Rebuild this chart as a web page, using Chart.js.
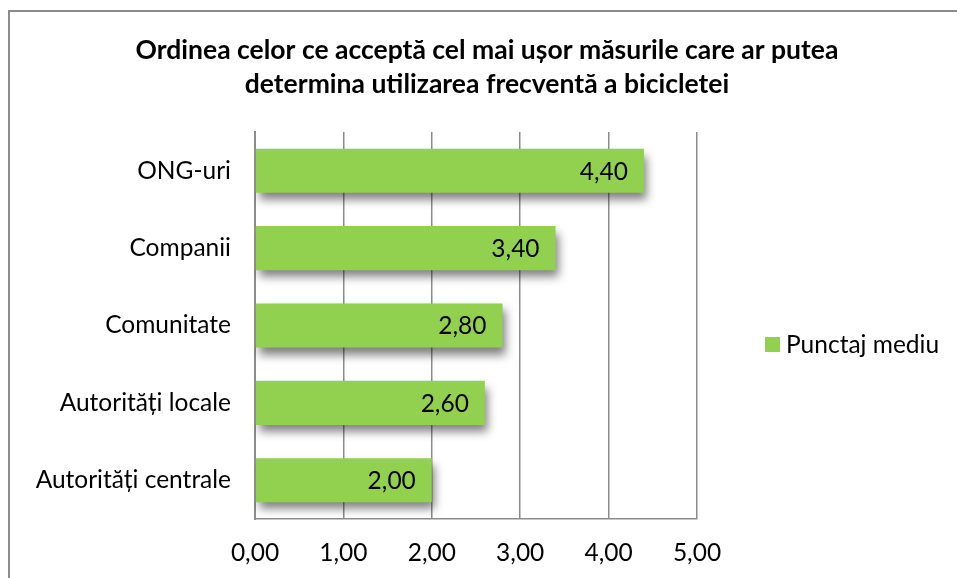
<!DOCTYPE html>
<html>
<head>
<meta charset="utf-8">
<script src="https://cdn.jsdelivr.net/npm/chart.js@4"></script>
<style>
  html, body { margin: 0; padding: 0; background: #fff; overflow: hidden; }
  #wrap { position: relative; width: 957px; height: 578px; }
  #frame { position: absolute; left: 8px; top: 10px; width: 1200px; height: 800px;
           border-top: 2px solid #8c8c8c; border-left: 2px solid #8c8c8c; box-sizing: border-box; }
  canvas { position: absolute; left: 0; top: 0; }
</style>
</head>
<body>
<div id="wrap">
  <div id="frame"></div>
  <canvas id="chart" width="957" height="578"></canvas>
</div>
<script>
const TITLE_LINES = ['Ordinea celor ce acceptă cel mai ușor măsurile care ar putea', 'determina utilizarea frecventă a bicicletei'];
const CATEGORIES = ['ONG-uri', 'Companii', 'Comunitate', 'Autorități locale', 'Autorități centrale'];
const SCORES = [4.40, 3.40, 2.80, 2.60, 2.00];
const SERIES_NAME = 'Punctaj mediu';
const X_TICKS = [0, 1, 2, 3, 4, 5];

const BAR_COLOR = '#92D050';
const GRID_COLOR = '#8c8c8c';
const FONT = 'Lato, "Open Sans", sans-serif';
const FONT_SIZE = 24.5;

const fmt = v => v.toFixed(2).replace('.', ',');

// titlul pe doua randuri, centrat pe toata imaginea
const chartTitle = {
  id: 'chartTitle',
  afterDraw(chart) {
    const ctx = chart.ctx;
    ctx.save();
    ctx.font = 'bold 26.5px ' + FONT;
    ctx.fillStyle = '#000';
    ctx.textAlign = 'center';
    ctx.textBaseline = 'middle';
    ctx.fillText(TITLE_LINES[0], 487, 50);
    ctx.fillText(TITLE_LINES[1], 487, 84);
    ctx.restore();
  }
};

// umbra sub bare, ca in Excel
const barShadow = {
  id: 'barShadow',
  beforeDatasetsDraw(chart) {
    const ctx = chart.ctx;
    ctx.save();
    ctx.shadowColor = 'rgba(0,0,0,0.5)';
    ctx.shadowBlur = 9;
    ctx.shadowOffsetX = 3;
    ctx.shadowOffsetY = 7;
  },
  afterDatasetsDraw(chart) { chart.ctx.restore(); }
};

// etichete cu valori in capatul barei
const valueLabels = {
  id: 'valueLabels',
  afterDraw(chart) {
    const ctx = chart.ctx;
    const meta = chart.getDatasetMeta(0);
    ctx.save();
    ctx.font = FONT_SIZE + 'px ' + FONT;
    ctx.fillStyle = '#000';
    ctx.textAlign = 'right';
    ctx.textBaseline = 'middle';
    meta.data.forEach((bar, i) => {
      ctx.fillText(fmt(SCORES[i]), bar.x - 16, bar.y + 1);
    });
    ctx.restore();
  }
};

// legenda din dreapta
const sideLegend = {
  id: 'sideLegend',
  afterDraw(chart) {
    const ctx = chart.ctx;
    ctx.save();
    ctx.fillStyle = BAR_COLOR;
    ctx.fillRect(765, 337, 15, 15);
    ctx.font = FONT_SIZE + 'px ' + FONT;
    ctx.fillStyle = '#000';
    ctx.textAlign = 'left';
    ctx.textBaseline = 'middle';
    ctx.fillText(SERIES_NAME, 786, 345);
    ctx.restore();
  }
};

new Chart(document.getElementById('chart'), {
  type: 'bar',
  data: {
    labels: CATEGORIES,
    datasets: [{
      label: SERIES_NAME,
      data: SCORES,
      backgroundColor: BAR_COLOR,
      borderWidth: 0,
      categoryPercentage: 1,
      barPercentage: 0.57
    }]
  },
  options: {
    indexAxis: 'y',
    responsive: false,
    animation: false,
    layout: { padding: { left: 0, right: 260, top: 132, bottom: 0 } },
    plugins: {
      legend: { display: false },
      tooltip: { enabled: false },
      title: { display: false }
    },
    scales: {
      x: {
        min: 0, max: 5,
        afterBuildTicks: s => { s.ticks = X_TICKS.map(v => ({ value: v })); },
        afterFit: s => { s.height = 59; },
        grid: { color: GRID_COLOR, lineWidth: 1.5, drawTicks: false },
        border: { display: true, color: GRID_COLOR, width: 1.5 },
        ticks: { color: '#000', padding: 19, font: { family: FONT, size: FONT_SIZE }, callback: v => fmt(v) }
      },
      y: {
        afterFit: s => { s.width = 255; },
        grid: { display: false, drawTicks: false },
        border: { display: true, color: GRID_COLOR, width: 2 },
        ticks: { color: '#000', padding: 24, font: { family: FONT, size: FONT_SIZE } }
      }
    }
  },
  plugins: [chartTitle, barShadow, valueLabels, sideLegend]
});
</script>
</body>
</html>
